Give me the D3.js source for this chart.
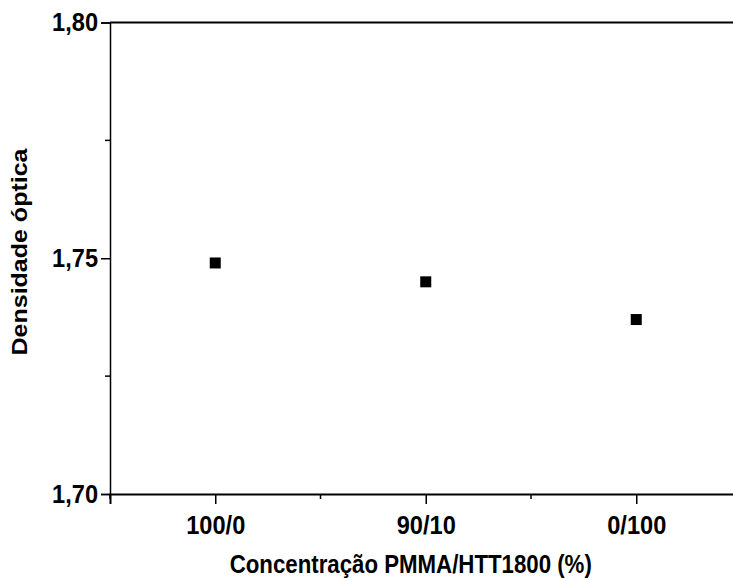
<!DOCTYPE html>
<html>
<head>
<meta charset="utf-8">
<script src="https://cdn.jsdelivr.net/npm/d3@7"></script>
<style>
  html, body { margin: 0; padding: 0; background: #fff; }
  svg { display: block; }
  text { font-family: "Liberation Sans", Arial, sans-serif; font-weight: bold; fill: #000; }
</style>
</head>
<body>
<svg id="chart" width="733" height="580"></svg>
<script>
// Optical density per PMMA/HTT1800 blend ratio
const categories = ["100/0", "90/10", "0/100"];
const density = [1.749, 1.745, 1.737];
const yTicks = [1.70, 1.75, 1.80];
const yMinorTicks = [1.725, 1.775];
const xLabel = "Concentração PMMA/HTT1800 (%)";
const yLabel = "Densidade óptica";

const svg = d3.select("#chart");
const plotLeft = 110, plotTop = 22.5, plotBottom = 494, plotRight = 741.5;
const titleSize = 25, tickSize = 26.5;   // type is set slightly condensed
const squeeze = 0.89;

// categories sit at 1..n, the frame runs half a step past each end
const x = d3.scaleLinear().domain([0.5, categories.length + 0.5]).range([plotLeft, plotRight]);
const y = d3.scaleLinear().domain([1.70, 1.80]).range([plotBottom, plotTop]);

const fmt = v => d3.format(".2f")(v).replace(".", ",");

// frame: top line runs to the right edge
svg.append("line").attr("x1", plotLeft).attr("x2", plotRight).attr("y1", plotTop).attr("y2", plotTop)
  .attr("stroke", "#000").attr("stroke-width", 2);

// x axis
const xAxis = d3.axisBottom(x)
  .tickValues(categories.map((d, i) => i + 1))
  .tickFormat(v => categories[v - 1])
  .tickSize(10).tickPadding(11);
const gx = svg.append("g").attr("transform", `translate(0,${plotBottom})`).call(xAxis);
gx.select(".domain").attr("stroke-width", 2);
gx.selectAll(".tick line").attr("stroke-width", 1.5);
gx.selectAll(".tick text").style("font-size", tickSize + "px")
  .attr("transform", `scale(${squeeze},1)`);
const xMinor = d3.range(0.5, categories.length + 1, 1);
gx.selectAll(".minor").data(xMinor).join("line").attr("class", "minor")
  .attr("x1", d => x(d)).attr("x2", d => x(d)).attr("y1", 0).attr("y2", 5)
  .attr("stroke", "#000").attr("stroke-width", 1.5);

// y axis
const yAxis = d3.axisLeft(y).tickValues(yTicks).tickFormat(fmt).tickSize(9).tickPadding(3);
const gy = svg.append("g").attr("transform", `translate(${plotLeft},0)`).call(yAxis);
gy.select(".domain").attr("stroke-width", 1.5);
gy.selectAll(".tick line").attr("stroke-width", 1.5);
gy.selectAll(".tick text").style("font-size", tickSize + "px")
  .attr("x", -12 / squeeze)
  .attr("transform", `scale(${squeeze},1)`);
gy.selectAll(".minor").data(yMinorTicks).join("line").attr("class", "minor")
  .attr("x1", 0).attr("x2", -5).attr("y1", d => y(d)).attr("y2", d => y(d))
  .attr("stroke", "#000").attr("stroke-width", 1.5);

// data squares
const s = 11;
svg.append("g").selectAll("rect").data(density).join("rect")
  .attr("x", (d, i) => x(i + 1) - s / 2)
  .attr("y", d => y(d) - s / 2)
  .attr("width", s).attr("height", s)
  .attr("fill", "#000");

// axis titles
svg.append("text")
  .attr("transform", `translate(${(plotLeft + plotRight) / 2 - 15},573) scale(${squeeze},1)`)
  .attr("text-anchor", "middle").style("font-size", titleSize + "px").text(xLabel);
svg.append("text")
  .attr("transform", `translate(27,252) scale(${squeeze},1) rotate(-90)`)
  .attr("text-anchor", "middle").style("font-size", titleSize + "px").text(yLabel);
</script>
</body>
</html>
